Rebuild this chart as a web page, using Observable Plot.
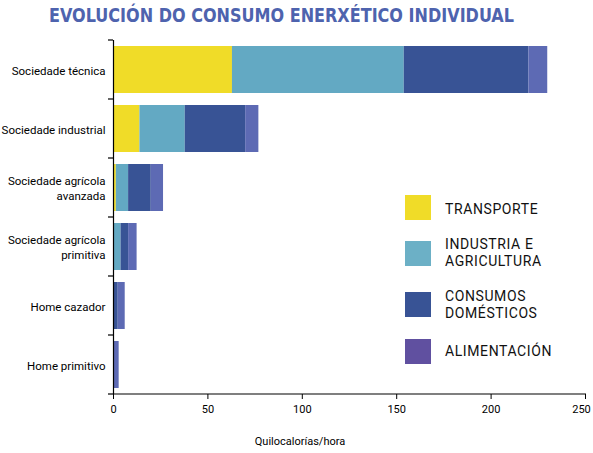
<!DOCTYPE html>
<html>
<head>
<meta charset="utf-8">
<script src="https://cdn.jsdelivr.net/npm/d3@7"></script>
<script src="https://cdn.jsdelivr.net/npm/@observablehq/plot@0.6"></script>
<style>
  body { margin: 0; background: #fff; }
  #wrap { position: relative; width: 593px; height: 453px; overflow: hidden; font-family: Roboto, "Liberation Sans", sans-serif; }
  #title { position: absolute; left: 49px; top: 3px; font-family: "DejaVu Sans Condensed", "Liberation Sans", sans-serif; font-weight: bold; font-size: 20px; color: #4E63AE; white-space: nowrap; transform-origin: 0 0; }
  #chart { position: absolute; left: 0; top: 30px; width: 600px; }
  #caption { position: absolute; left: 0; width: 600px; top: 435px; text-align: center; font-size: 11px; color: #000; }
  .sw { position: absolute; width: 26px; height: 25px; }
  .lt { position: absolute; font-size: 14px; letter-spacing: 0.6px; line-height: 17px; color: #111; white-space: nowrap; }
</style>
</head>
<body>
<div id="wrap">
  <div id="title">EVOLUCIÓN DO CONSUMO ENERXÉTICO INDIVIDUAL</div>
  <div id="chart"></div>
  <div id="caption">Quilocalorías/hora</div>
  <div id="legend"></div>
</div>
<script>
// Categories (bottom to top in data order)
const categories = [
  "Home primitivo",
  "Home cazador",
  "Sociedade agrícola\nprimitiva",
  "Sociedade agrícola\navanzada",
  "Sociedade industrial",
  "Sociedade técnica"
];
const seriesNames = ["TRANSPORTE", "INDUSTRIA E\nAGRICULTURA", "CONSUMOS\nDOMÉSTICOS", "ALIMENTACIÓN"];
const transporte   = [0, 0,   0,   1.5, 14, 63];
const industria    = [0, 0,   4,   6.5, 24, 91];
const domesticos   = [0, 2.5, 4,   12,  32, 66];
const alimentacion = [3, 3.7, 4.5, 6.5, 7,  10];
const barColors    = ["#F0DC28", "#63A9C3", "#385395", "#5D6AB4"];
const legendColors = ["#F0DC28", "#6CB0C6", "#385395", "#6050A0"];
const xTicks = [0, 50, 100, 150, 200, 250];
const xLabel = "Quilocalorías/hora";

// fit title width to the reference (about 465px)
const titleEl = document.getElementById("title");
const tw = titleEl.getBoundingClientRect().width;
titleEl.style.transform = `scaleX(${465 / tw})`;

const seriesValues = [transporte, industria, domesticos, alimentacion];
const data = [];
seriesNames.forEach((s, si) => {
  categories.forEach((c, ci) => {
    data.push({category: c, series: s, value: seriesValues[si][ci]});
  });
});

const lastTick = xTicks[xTicks.length - 1];
const chart = Plot.plot({
  width: 600,
  height: 395,
  marginTop: 10,
  marginBottom: 31,
  marginLeft: 113,
  marginRight: 15,
  style: {fontFamily: "Roboto, 'Liberation Sans', sans-serif", fontSize: "11px", color: "#000", background: "#fff", maxWidth: "none"},
  x: {domain: [0, 250]},
  y: {domain: categories.slice().reverse(), paddingInner: 0.2, paddingOuter: 0.1},
  color: {domain: seriesNames, range: barColors},
  marks: [
    Plot.barX(data, Plot.stackX({x: "value", y: "category", fill: "series", order: null})),
    Plot.axisX({ticks: xTicks, tickSize: 5, tickPadding: 6, label: null, fontSize: 11,
                tickFormat: d => d === lastTick ? "" : String(d)}),
    Plot.axisX({ticks: [lastTick], tickSize: 0, tickPadding: 11, label: null, fontSize: 11, dx: -4}),
    Plot.axisY({tickSize: 0, tickPadding: 8, label: null, lineHeight: 1.3, fontSize: 11.5}),
    Plot.ruleX([0], {stroke: "#000", strokeWidth: 1.2})
  ]
});
chart.style.maxWidth = "none";
document.getElementById("chart").appendChild(chart);
document.getElementById("caption").textContent = xLabel;

// band-boundary ticks on the y axis and bottom axis line
const ys = chart.scale("y");
const xs = chart.scale("x");
const svg = d3.select(chart);
const half = (ys.step - ys.bandwidth) / 2;
const x0 = xs.apply(0);
const bounds = categories.map(c => ys.apply(c) - half);
bounds.push(ys.apply(categories[0]) + ys.bandwidth + half);
svg.append("g").selectAll("line").data(bounds).join("line")
  .attr("x1", x0 - 5).attr("x2", x0).attr("y1", d => d).attr("y2", d => d)
  .attr("stroke", "#000").attr("stroke-width", 1.2);
svg.append("line")
  .attr("x1", x0).attr("x2", xs.apply(250) + 1)
  .attr("y1", bounds[bounds.length - 1]).attr("y2", bounds[bounds.length - 1])
  .attr("stroke", "#000").attr("stroke-width", 1.2);

// legend
const legendRows = [
  {sq: 195, tx: 201},
  {sq: 241, tx: 236},
  {sq: 292, tx: 288},
  {sq: 339, tx: 343}
];
const leg = document.getElementById("legend");
seriesNames.forEach((s, i) => {
  const sw = document.createElement("div");
  sw.className = "sw";
  sw.style.left = "405px";
  sw.style.top = legendRows[i].sq + "px";
  sw.style.background = legendColors[i];
  leg.appendChild(sw);
  const t = document.createElement("div");
  t.className = "lt";
  t.style.left = "445px";
  t.style.top = legendRows[i].tx + "px";
  t.innerHTML = s.split("\n").join("<br>");
  leg.appendChild(t);
});
</script>
</body>
</html>
